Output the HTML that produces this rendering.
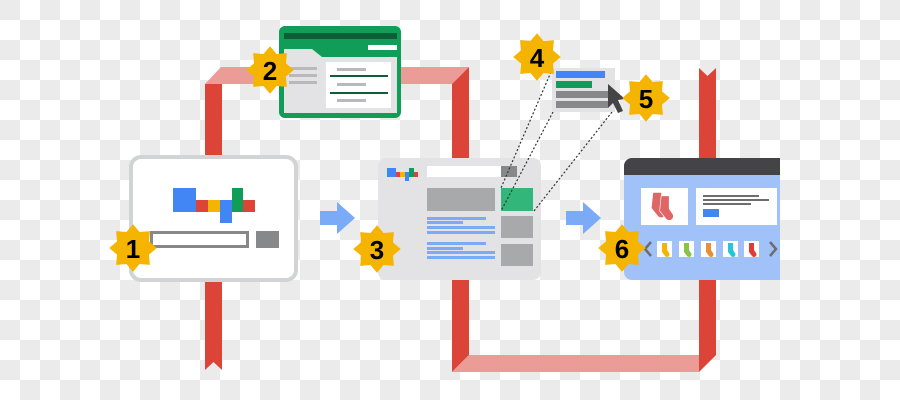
<!DOCTYPE html>
<html><head><meta charset="utf-8"><style>
html,body{margin:0;padding:0;}
body{width:900px;height:400px;overflow:hidden;
background-color:#fff;
background-image:linear-gradient(45deg,#ebebeb 25%,transparent 25%,transparent 75%,#ebebeb 75%),linear-gradient(45deg,#ebebeb 25%,transparent 25%,transparent 75%,#ebebeb 75%);
background-size:40px 40px;background-position:20px 0,0 20px;}
svg{position:absolute;left:0;top:0;}
text{font-family:"Liberation Sans",sans-serif;font-weight:bold;font-size:26px;fill:#000;text-anchor:middle;}
</style></head><body>
<svg width="900" height="400" viewBox="0 0 900 400">
<defs>
<polygon id="st" fill="#f4b400" transform="scale(1.08)" points="0,-22 6.1,-14.8 15.6,-15.6 14.8,-6.1 22,0 14.8,6.1 15.6,15.6 6.1,14.8 0,22 -6.1,14.8 -15.6,15.6 -14.8,6.1 -22,0 -14.8,-6.1 -15.6,-15.6 -6.1,-14.8"/>
<g id="sock"><path d="M-3,-6 h5 v7 l2,3 a2.5,2.5 0 0 1 -4,3 l-3,-4 z"/></g>
</defs>
<polygon fill="#eb9c97" points="205,84 221,67 469,67 452,84"/>
<polygon fill="#db4437" points="205,84 222,84 222,370 213.5,362 205,370"/>
<polygon fill="#db4437" points="452,84 469,67 469,355 452,372"/>
<polygon fill="#eb9c97" points="452,372 469,355 716,355 699,372"/>
<polygon fill="#db4437" points="699,68 707.5,76 716,68 716,355 699,372"/>
<rect x="131" y="157" width="165" height="123" rx="10" fill="#fff" stroke="#d2d3d5" stroke-width="4"/>
<rect x="173" y="188" width="23" height="24" fill="#4285f4"/>
<rect x="196" y="200" width="12" height="12" fill="#db4437"/>
<rect x="208" y="200" width="12" height="12" fill="#f4b400"/>
<rect x="220" y="200" width="12" height="23" fill="#4285f4"/>
<rect x="232" y="188" width="11" height="24" fill="#0f9d58"/>
<rect x="243" y="200" width="12" height="12" fill="#db4437"/>
<rect x="151.5" y="232.5" width="96" height="14" fill="#fff" stroke="#888" stroke-width="3"/>
<rect x="256" y="231" width="23" height="17" fill="#87888a"/>
<rect x="279" y="26" width="122" height="92" rx="6" fill="#0f9d58"/>
<rect x="284" y="33" width="113" height="6" fill="#0b5e35"/>
<rect x="368" y="45" width="29" height="5" fill="#fff"/>
<path d="M284,49 h28 l10,8 h75 v56 h-113 z" fill="#e3e3e5"/>
<rect x="326" y="62" width="65" height="46" fill="#fff"/>
<rect x="289" y="67" width="28" height="3" fill="#b9b9bb"/>
<rect x="289" y="74" width="28" height="3" fill="#b9b9bb"/>
<rect x="289" y="81" width="28" height="3" fill="#b9b9bb"/>
<rect x="337" y="68" width="29" height="3" fill="#b9b9bb"/>
<rect x="330" y="75" width="58" height="2" fill="#0b5e35"/>
<rect x="337" y="83" width="29" height="3" fill="#b9b9bb"/>
<rect x="330" y="92" width="58" height="2" fill="#0b5e35"/>
<rect x="337" y="99" width="29" height="3" fill="#b9b9bb"/>
<polygon fill="#7baaf7" points="320,211 337,211 337,202 355,218 337,234 337,225 320,225"/>
<polygon fill="#7baaf7" points="566,211 583,211 583,202 601,218 583,234 583,225 566,225"/>
<rect x="378" y="158" width="163" height="122" rx="8" fill="#e3e3e5"/>
<rect x="387" y="168" width="9" height="9" fill="#4285f4"/>
<rect x="396" y="172" width="4" height="5" fill="#db4437"/>
<rect x="400" y="172" width="5" height="5" fill="#f4b400"/>
<rect x="405" y="172" width="4" height="9" fill="#4285f4"/>
<rect x="409" y="168" width="5" height="9" fill="#0f9d58"/>
<rect x="414" y="172" width="4" height="5" fill="#db4437"/>
<rect x="427" y="166" width="90" height="11" fill="#fff"/>
<rect x="501" y="166" width="16" height="11" fill="#87888a"/>
<rect x="427" y="188" width="68" height="23" fill="#a8a9ab"/>
<rect x="501" y="188" width="32" height="23" fill="#33b679"/>
<rect x="501" y="216" width="32" height="22" fill="#a8a9ab"/>
<rect x="501" y="244" width="32" height="22" fill="#a8a9ab"/>
<g fill="#7baaf7">
<rect x="427" y="217" width="59" height="3"/><rect x="427" y="221" width="36" height="3"/><rect x="427" y="226" width="68" height="3"/><rect x="427" y="231" width="68" height="3"/>
<rect x="427" y="242" width="59" height="3"/><rect x="427" y="247" width="36" height="3"/><rect x="427" y="251" width="68" height="3"/><rect x="427" y="256" width="68" height="3"/>
</g>
<g stroke="#333" stroke-width="1.2" stroke-dasharray="2,2" fill="none">
<line x1="551" y1="72" x2="501" y2="188"/>
<line x1="553" y1="112" x2="501" y2="211"/>
<line x1="612" y1="112" x2="534" y2="211"/>
</g>
<rect x="552" y="68" width="63" height="44" fill="#e3e3e5"/>
<rect x="556" y="71" width="49" height="7" fill="#4285f4"/>
<rect x="556" y="81" width="36" height="7" fill="#0f9d58"/>
<rect x="556" y="91" width="52" height="7" fill="#87888a"/>
<rect x="556" y="101" width="52" height="7" fill="#87888a"/>
<polygon fill="#444" points="608,84 625,99 618,100 623,111 618,113 613,103 608,108"/>
<path d="M624,166 a8,8 0 0 1 8,-8 h148 v122 h-148 a8,8 0 0 1 -8,-8 z" fill="#a0c2f9"/>
<path d="M624,175 v-9 a8,8 0 0 1 8,-8 h148 v17 z" fill="#444446"/>
<rect x="641" y="188" width="47" height="37" fill="#fff"/>
<rect x="696" y="188" width="81" height="37" fill="#fff"/>
<rect x="703" y="195" width="56" height="2" fill="#6d6d6d"/>
<rect x="703" y="199" width="66" height="2" fill="#6d6d6d"/>
<rect x="703" y="203" width="48" height="2" fill="#6d6d6d"/>
<rect x="703" y="209" width="16" height="8" fill="#4285f4"/>
<g transform="translate(658,204) scale(1.6)"><path d="M-3,-7 h5 v8 l2,3 a2.5,2.5 0 0 1 -4,3.5 l-4,-5 z" fill="#e06666"/></g>
<g transform="translate(666,207) scale(1.6)"><path d="M-3,-7 h5 v8 l2,3 a2.5,2.5 0 0 1 -4,3.5 l-4,-5 z" fill="#e06666" stroke="#fff" stroke-width="0.4"/></g>
<polyline points="651,242 645,249 651,256" fill="none" stroke="#6d6d6d" stroke-width="2.5"/>
<polyline points="770,242 776,249 770,256" fill="none" stroke="#6d6d6d" stroke-width="2.5"/>
<rect x="657" y="241" width="15" height="16" fill="#fff"/>
<rect x="679" y="241" width="15" height="16" fill="#fff"/>
<rect x="701" y="241" width="15" height="16" fill="#fff"/>
<rect x="723" y="241" width="15" height="16" fill="#fff"/>
<rect x="744" y="241" width="15" height="16" fill="#fff"/>
<g transform="translate(665,249)" fill="#f4b400"><use href="#sock"/></g>
<g transform="translate(687,249)" fill="#8bc34a"><use href="#sock"/></g>
<g transform="translate(709,249)" fill="#e69138"><use href="#sock"/></g>
<g transform="translate(731,249)" fill="#26c6da"><use href="#sock"/></g>
<g transform="translate(752,249)" fill="#e53935"><use href="#sock"/></g>
<use href="#st" x="133" y="248"/><text x="133" y="258">1</text>
<use href="#st" x="270" y="70"/><text x="270" y="80">2</text>
<use href="#st" x="377" y="249"/><text x="377" y="259">3</text>
<use href="#st" x="537" y="57"/><text x="537" y="67">4</text>
<use href="#st" x="646" y="98"/><text x="646" y="108">5</text>
<use href="#st" x="622" y="248"/><text x="622" y="258">6</text>
</svg>
</body></html>
